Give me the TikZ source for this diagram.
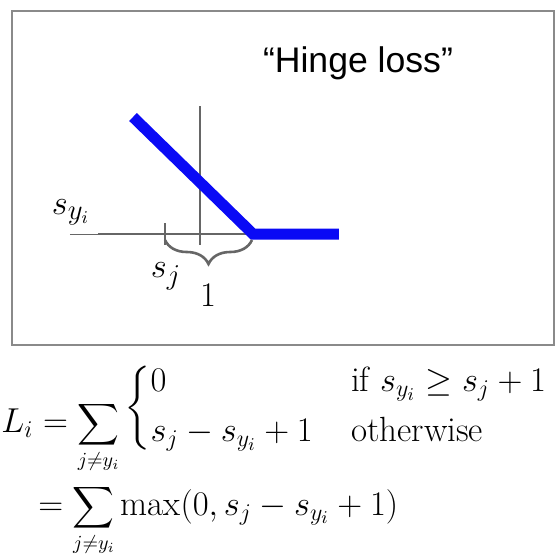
\documentclass[tikz,border=0pt]{standalone}
\usepackage{amsmath,amssymb}
\usepackage{fontspec}
\newfontfamily\arialfont{Liberation Sans}
\usetikzlibrary{decorations.pathreplacing,positioning}
\definecolor{Frame}{HTML}{8A8A8A}
\definecolor{Axis}{HTML}{666666}
\definecolor{Hinge}{HTML}{0A0AF5}
\newcommand{\hingesum}{\text{\fontsize{14.5}{17}\selectfont$\displaystyle\sum_{j\neq y_i}$}}
\tikzset{
  frame/.style={draw=Frame,line width=1pt},
  axisline/.style={draw=Axis,line width=1.1pt},
  hingeline/.style={draw=Hinge,line width=5.5pt},
  lbl/.style={inner sep=0pt,font=\fontsize{19}{23}\selectfont},
  formula/.style={inner sep=0pt,font=\fontsize{17.5}{21}\selectfont},
  bracemark/.style={draw=Axis,line width=1.3pt,decorate,decoration={brace,amplitude=12pt}}
}
\begin{document}
\begin{tikzpicture}[x=0.5pt,y=-0.5pt]
  \useasboundingbox (0,0) rectangle (558,559);
  \draw[frame] (12,11) rectangle (554,345);
  % axes
  \draw[draw=Axis,line width=.5pt] (70,234) -- (98,234);
  \draw[axisline] (98,234) -- (252,234);
  \draw[axisline] (200,106) -- (200,245);
  \draw[axisline] (165,223) -- (165,245);
  % the hinge
  \draw[hingeline] (133,117) -- (253,234) -- (339,234);
  \draw[bracemark] (252,240) -- (165,240);
  \node[lbl] (syi) at (71,212) {$s_{y_i}$};
  \node[lbl] (sj) at (166,276) {$s_j$};
  \node[lbl] (one) at (208,295) {$1$};
  \node[inner sep=0pt,font=\arialfont\fontsize{17.8}{21}\selectfont] (title) at (358,63) {“Hinge loss”};
  % the loss
  \node[formula,anchor=base west] (lhs) at (1,432) {$L_i = \hingesum$};
  \node[formula,anchor=west] (cases) at (124,408)
    {$\left\{\begin{array}{@{}l@{\hspace{1.1em}}l@{}}
       0 & \text{if } s_{y_i}\geq s_j+1\\[4pt]
       s_j-s_{y_i}+1 & \text{otherwise}
     \end{array}\right.$};
  \node[formula,anchor=base west] (rhs) at (38,515) {$= \hingesum\max(0,s_j-s_{y_i}+1)$};
\end{tikzpicture}
\end{document}
